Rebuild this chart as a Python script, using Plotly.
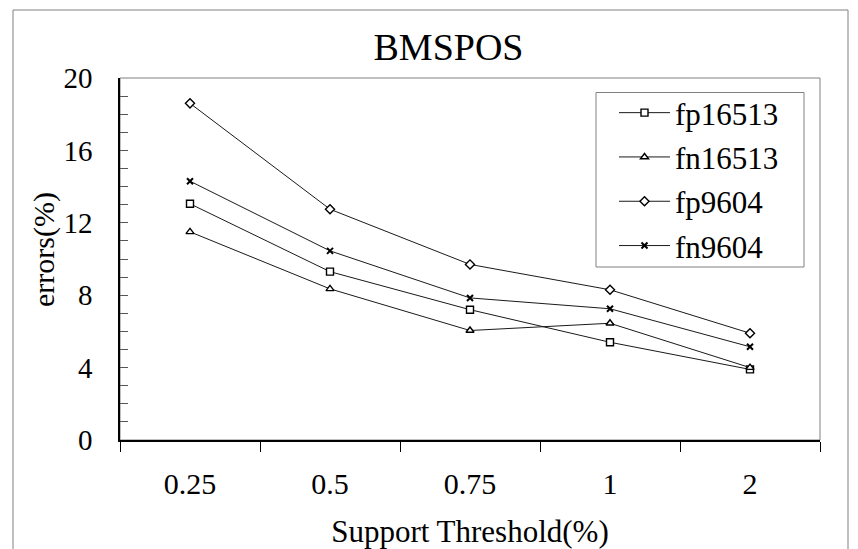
import plotly.graph_objects as go

# Support thresholds (%) on the category axis
thresholds = ["0.25", "0.5", "0.75", "1", "2"]

# Error rates (%) per series
fp16513 = [13.05, 9.3, 7.2, 5.4, 3.9]
fn16513 = [11.5, 8.35, 6.05, 6.45, 4.0]
fp9604 = [18.6, 12.75, 9.7, 8.3, 5.9]
fn9604 = [14.3, 10.45, 7.85, 7.25, 5.15]

series_names = ["fp16513", "fn16513", "fp9604", "fn9604"]
series_values = [fp16513, fn16513, fp9604, fn9604]
symbols = ["square", "triangle-up", "diamond", "x-thin"]
sizes = [7, 7, 7, 6]

FONT = "Liberation Serif, Times New Roman, serif"
W, H = 858, 549
L, R, T, B = 120, 38, 78, 109
PW, PH = W - L - R, H - T - B


def px_x(x):
    return (x - L) / PW


def px_y(y):
    return (H - B - y) / PH


fig = go.Figure()
for name, vals, sym, sz in zip(series_names, series_values, symbols, sizes):
    is_x = sym.startswith("x")
    fig.add_trace(go.Scatter(
        x=thresholds, y=vals, name=name, mode="lines+markers",
        legendgroup=name,
        line=dict(color="#1a1a1a", width=1),
        marker=dict(
            symbol=sym, size=sz,
            color="#000000" if is_x else "#ffffff",
            line=dict(color="#000000", width=2 if is_x else 1.4),
        ),
    ))

fig.update_layout(
    width=W, height=H, autosize=False,
    margin=dict(l=L, r=R, t=T, b=B, pad=0),
    paper_bgcolor="white", plot_bgcolor="white",
    font=dict(family=FONT, size=30, color="black"),
    title=dict(text="BMSPOS", font=dict(size=38, family=FONT, color="black"),
               xref="container", x=448.5 / W, xanchor="center",
               yref="container", y=1 - 47 / H, yanchor="middle"),
    showlegend=True,
    legend=dict(x=px_x(614), xanchor="left", y=px_y(86), yanchor="top",
                bgcolor="rgba(0,0,0,0)", borderwidth=0,
                font=dict(size=31, family=FONT, color="black"),
                itemwidth=51, tracegroupgap=1, traceorder="grouped"),
    xaxis=dict(
        type="category", range=[-0.5, 4.5], automargin=False,
        showline=True, linecolor="black", linewidth=1.5,
        ticks="outside", tickson="boundaries", ticklen=10, tickcolor="black",
        showgrid=False, zeroline=False,
        tickfont=dict(size=30, family=FONT, color="black"),
        ticklabelstandoff=16,
        title=dict(text="Support Threshold(%)", standoff=22,
                   font=dict(size=31, family=FONT, color="black")),
    ),
    yaxis=dict(
        range=[0, 20], dtick=4, tick0=0, automargin=False,
        showline=True, linecolor="black", linewidth=1.5,
        ticks="inside", ticklen=8, tickcolor="#555555",
        minor=dict(dtick=1, ticks="inside", ticklen=8, tickcolor="#555555"),
        showgrid=False, zeroline=False,
        tickfont=dict(size=29, family=FONT, color="black"),
        ticklabelstandoff=20,
    ),
    annotations=[
        dict(text="errors(%)", textangle=-90, showarrow=False,
             xref="paper", yref="paper", x=px_x(44), y=px_y(250),
             xanchor="center", yanchor="middle",
             font=dict(size=30, family=FONT, color="black")),
    ],
    shapes=[
        # plot area frame (top/right edges visible in grey)
        dict(type="rect", xref="paper", yref="paper", x0=0, x1=1, y0=0, y1=1,
             line=dict(color="#808080", width=1), layer="below"),
        # outer chart frame
        dict(type="rect", xref="paper", yref="paper",
             x0=px_x(13), x1=px_x(848), y0=px_y(570), y1=px_y(10),
             line=dict(color="#808080", width=1), layer="below"),
        # legend box
        dict(type="rect", xref="paper", yref="paper",
             x0=px_x(596), x1=px_x(804), y0=px_y(267), y1=px_y(92.5),
             line=dict(color="#808080", width=1), layer="below"),
    ],
)

fig.write_html("out.html")
